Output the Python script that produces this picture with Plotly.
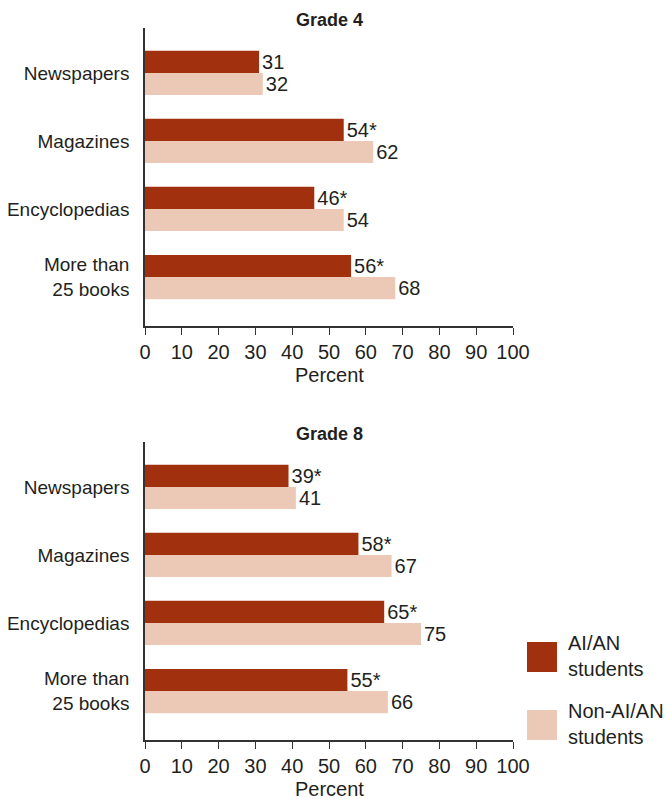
import plotly.graph_objects as go

categories = ["Newspapers", "Magazines", "Encyclopedias", "More than<br>25 books"]
g4_aian = [31, 54, 46, 56]
g4_non = [32, 62, 54, 68]
g4_sig = [False, True, True, True]
g8_aian = [39, 58, 65, 55]
g8_non = [41, 67, 75, 66]
g8_sig = [True, True, True, True]
x_ticks = list(range(0, 101, 10))
series_names = ["AI/AN<br>students", "Non-AI/AN<br>students"]
panel_titles = ["Grade 4", "Grade 8"]

C_AIAN = "#A0300E"
C_NON = "#EBC9B6"
FONT = "Liberation Sans, Arial, sans-serif"
TXT = "#231F20"
W, H = 669, 799

fig = go.Figure()

def lab(vals, sig):
    return [f"{v}*" if s else f"{v}" for v, s in zip(vals, sig)]

panels = [
    (g4_aian, g4_non, g4_sig, "x", "y"),
    (g8_aian, g8_non, g8_sig, "x2", "y2"),
]
for a, n, sig, xa, ya in panels:
    fig.add_trace(go.Bar(y=categories, x=a, orientation="h", marker=dict(color=C_AIAN, line=dict(width=0)),
                         text=lab(a, sig), textposition="outside", cliponaxis=False, constraintext="none",
                         textfont=dict(family=FONT, size=20, color=TXT), xaxis=xa, yaxis=ya,
                         showlegend=False, hoverinfo="skip"))
    fig.add_trace(go.Bar(y=categories, x=n, orientation="h", marker=dict(color=C_NON, line=dict(width=0)),
                         text=[str(v) for v in n], textposition="outside", cliponaxis=False, constraintext="none",
                         textfont=dict(family=FONT, size=20, color=TXT), xaxis=xa, yaxis=ya,
                         showlegend=False, hoverinfo="skip"))

x0, x1 = 145 / W, 513 / W
dom1 = [1 - 326 / H, 1 - 28 / H]
dom2 = [1 - 740 / H, 1 - 442 / H]

xcommon = dict(range=[0, 100], tickvals=x_ticks, ticks="outside", ticklen=7, tickcolor="#333",
               tickangle=0, automargin=False,
               showline=True, linecolor="#333", linewidth=1.5, showgrid=False, zeroline=False,
               tickfont=dict(family=FONT, size=20, color=TXT),
               domain=[x0, x1], fixedrange=True)
ycommon = dict(range=[3.72, -0.66], showline=True, linecolor="#333", linewidth=1.5, showgrid=False,
               ticks="", ticklabelstandoff=10, automargin=False,
               tickfont=dict(family=FONT, size=19, color=TXT),
               fixedrange=True)

fig.update_layout(
    width=W, height=H, margin=dict(l=0, r=0, t=0, b=0, autoexpand=False),
    paper_bgcolor="white", plot_bgcolor="white",
    barmode="group", bargap=0.35, bargroupgap=0,
    xaxis=dict(**xcommon, anchor="y"),
    yaxis=dict(**ycommon, domain=dom1, anchor="x"),
    xaxis2=dict(**xcommon, anchor="y2"),
    yaxis2=dict(**ycommon, domain=dom2, anchor="x2"),
)

# axis titles
for ybot in (326, 740):
    fig.add_annotation(text="Percent", x=(x0 + x1) / 2, y=1 - (ybot + 49) / H, xref="paper", yref="paper",
                       xanchor="center", yanchor="middle", showarrow=False,
                       font=dict(family=FONT, size=20, color=TXT))

# panel titles
for t, ytop in zip(panel_titles, (20, 434)):
    fig.add_annotation(text=f"<b>{t}</b>", x=(x0 + x1) / 2, y=1 - ytop / H, xref="paper", yref="paper",
                       xanchor="center", yanchor="middle", showarrow=False,
                       font=dict(family=FONT, size=18, color=TXT))

# legend
leg = [(C_AIAN, series_names[0], 642), (C_NON, series_names[1], 710)]
for col, name, top in leg:
    fig.add_shape(type="rect", xref="paper", yref="paper", x0=527 / W, x1=557 / W,
                  y0=1 - (top + 30) / H, y1=1 - top / H, fillcolor=col, line=dict(width=0))
    fig.add_annotation(text=name, x=566 / W, y=1 - (top + 14) / H, xref="paper", yref="paper",
                       xanchor="left", yanchor="middle", align="left", showarrow=False,
                       font=dict(family=FONT, size=20, color=TXT))

fig.write_html("out.html", config={"displayModeBar": False},
               post_script="document.body.style.margin='0';document.body.style.overflow='hidden';")
